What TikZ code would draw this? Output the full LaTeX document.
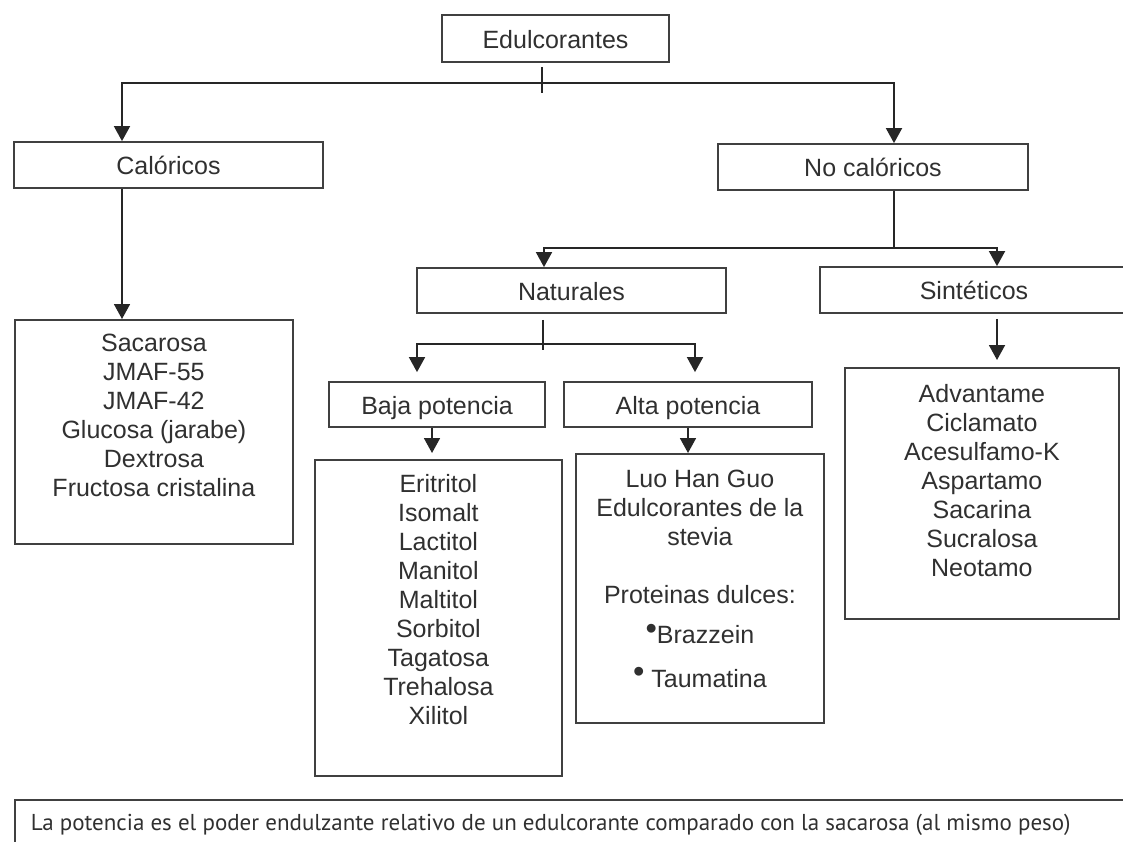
\documentclass[tikz,border=0pt]{standalone}
\usepackage{fontspec}
\setmainfont{Liberation Sans}
\newfontfamily\notefont{PT Sans}
\usepackage{xcolor}
\usepackage{tikz}
\usetikzlibrary{arrows.meta}

\definecolor{boxgray}{HTML}{404040}
\definecolor{textgray}{HTML}{303030}
\newcommand{\boxlist}[4]{\parbox[t][#1][t]{#2}{\centering\rule{0pt}{#3}#4}}
\newcommand{\listdot}[1]{\raisebox{#1}{\scalebox{1.3}{•}}}

\begin{document}
\begin{tikzpicture}[x=1pt, y=-1pt,
  box/.style={draw=boxgray, line width=1.8pt, text=textgray, inner sep=0pt, font=\fontsize{25}{29}\selectfont},
  head/.style={box, minimum height=46pt, text height=22pt, text depth=3pt},
  link/.style={line width=1.8pt, draw=black!85},
  arrow/.style={link, -{Triangle[length=15pt, width=16pt]}}]
\useasboundingbox (0,0) rectangle (1123,841);
\clip (0,0) rectangle (1123,841);

\node[head, minimum width=227pt, minimum height=47pt] (edul) at (555.5,38.5) {Edulcorantes};
\node[head, minimum width=309pt] (calo) at (168.5,165) {Calóricos};
\node[head, minimum width=310pt] (nocalo) at (873,167) {No calóricos};
\node[head, minimum width=309pt, minimum height=45pt] (natu) at (571.5,290.5) {Naturales};
\node[head, minimum width=308pt] (sint) at (974,290) {Sintéticos};
\node[head, minimum width=216pt, minimum height=45pt] (baja) at (437,404.5) {Baja potencia};
\node[head, minimum width=248pt, minimum height=45pt] (alta) at (688,404.5) {Alta potencia};

\node[box, anchor=north west] (callist) at (14,319) {\boxlist{224pt}{278pt}{32pt}{Sacarosa\\JMAF-55\\JMAF-42\\Glucosa (jarabe)\\Dextrosa\\Fructosa cristalina}};
\node[box, anchor=north west] (balist) at (314,459) {\boxlist{316pt}{247pt}{33pt}{Eritritol\\Isomalt\\Lactitol\\Manitol\\Maltitol\\Sorbitol\\Tagatosa\\Trehalosa\\Xilitol}};
\node[box, anchor=north west] (allist) at (575,453) {\boxlist{269pt}{248pt}{34pt}{Luo Han Guo\\Edulcorantes de la\\stevia\\[29pt]Proteinas dulces:\\[11pt]\listdot{4pt}Brazzein\\[15pt]\listdot{5pt} Taumatina}};
\node[box, anchor=north west] (sinlist) at (844,367) {\boxlist{251pt}{274pt}{35pt}{Advantame\\Ciclamato\\Acesulfamo-K\\Aspartamo\\Sacarina\\Sucralosa\\Neotamo}};

\node[box, anchor=north west, inner xsep=16pt, font=\notefont\fontsize{23}{27}\selectfont] (nota) at (14,799) {\parbox[t][62pt][t]{1089pt}{\rule{0pt}{31pt}La potencia es el poder endulzante relativo de un edulcorante comparado con la sacarosa (al mismo peso)}};

\coordinate (edulfork) at (542,83);
\draw[link] ([yshift=-4pt]edul.south -| edulfork) -- ([yshift=-10pt]edulfork);
\draw[arrow] (edulfork) -| ([xshift=-46.5pt]calo.north);
\draw[arrow] (edulfork) -| ([xshift=21pt]nocalo.north);
\draw[arrow] ([xshift=-46.5pt]calo.south) -- ([xshift=-46.5pt]calo.south |- callist.north);

\coordinate (nocalofork) at (894,248);
\draw[link] ([xshift=21pt]nocalo.south) -- (nocalofork);
\draw[arrow] (nocalofork) -| ([xshift=-27.5pt]natu.north);
\draw[arrow] (nocalofork) -| ([xshift=23pt]sint.north);
\draw[arrow] ([xshift=23pt,yshift=-5pt]sint.south) -- ([xshift=23pt,yshift=7pt]sint.south |- sinlist.north);

\coordinate (natufork) at (543,344);
\draw[link] ([yshift=-6pt]natu.south -| natufork) -- ([yshift=-6pt]natufork);
\draw[arrow] (natufork) -| ([xshift=-20pt,yshift=9pt]baja.north);
\draw[arrow] (natufork) -| ([xshift=7pt,yshift=9pt]alta.north);
\draw[arrow] ([xshift=-5pt]baja.south) -- ([xshift=-5pt,yshift=6pt]baja.south |- balist.north);
\draw[arrow] (alta.south) -- (alta.south |- allist.north);
\end{tikzpicture}
\end{document}
